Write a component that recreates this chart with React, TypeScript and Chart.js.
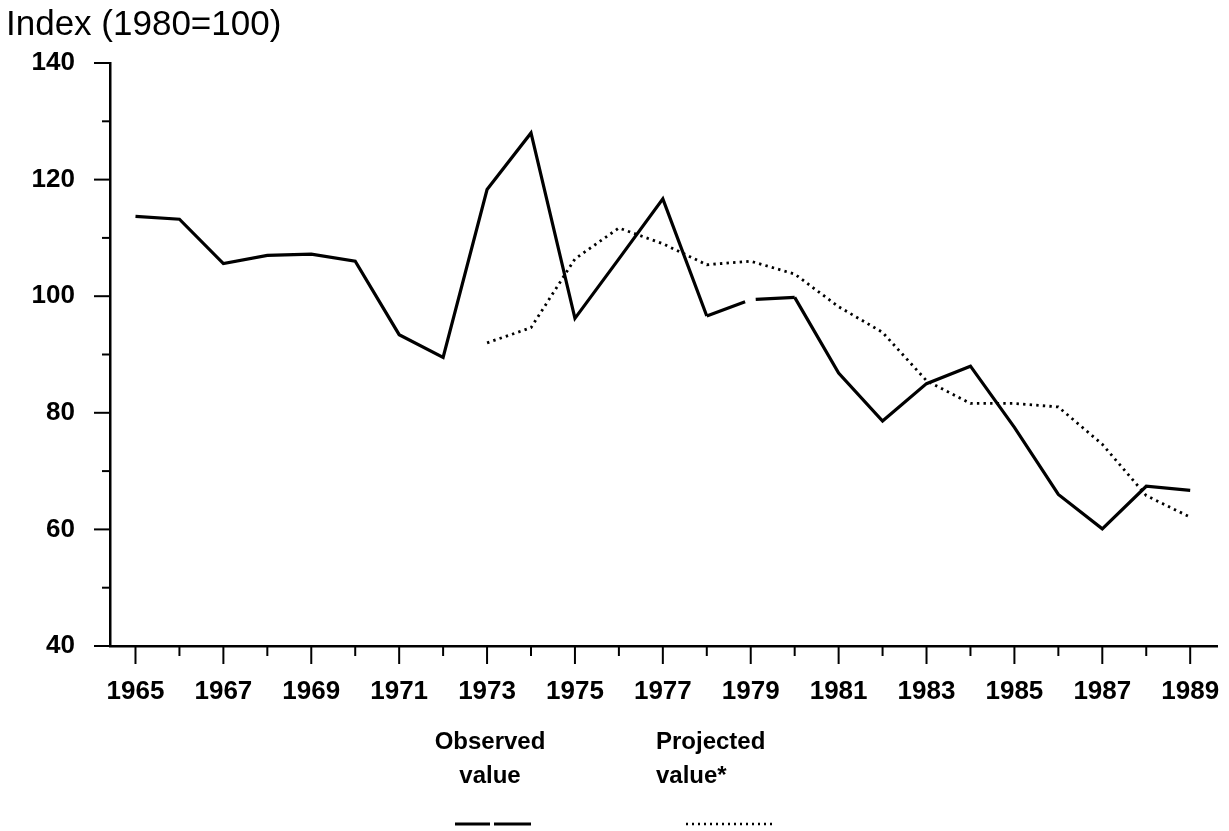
import React, { useEffect, useRef } from "react";
import { Chart, registerables } from "chart.js";

Chart.register(...registerables);

const years = [1965, 1966, 1967, 1968, 1969, 1970, 1971, 1972, 1973, 1974, 1975, 1976, 1977, 1978, 1979, 1980, 1981, 1982, 1983, 1984, 1985, 1986, 1987, 1988, 1989];
const observed = [113.7, 113.2, 105.6, 107.0, 107.2, 106.0, 93.4, 89.5, 118.3, 128.0, 96.2, 106.4, 116.7, 96.6, 99.4, 99.8, 86.8, 78.6, 85.0, 88.0, 77.5, 66.0, 60.1, 67.4, 66.7];
const projected: (number | null)[] = [null, null, null, null, null, null, null, null, 92.0, 94.6, 106.4, 111.7, 109.0, 105.4, 106.0, 103.8, 98.2, 93.8, 85.5, 81.6, 81.6, 81.0, 74.6, 65.8, 62.1];
const yTicks = [40, 50, 60, 70, 80, 90, 100, 110, 120, 130, 140];
const titleText = "Index (1980=100)";
const observedLabel = ["Observed", "value"];
const projectedLabel = ["Projected", "value*"];

const FONT = '"Liberation Sans", Arial, Helvetica, sans-serif';
const BREAK_INDEX = 14; // observed series break around 1979

const tickMarks = {
  id: "tickMarks",
  afterDraw(chart: any) {
    const ctx = chart.ctx;
    const xs = chart.scales.x;
    const ys = chart.scales.y;
    const area = chart.chartArea;
    ctx.save();
    ctx.strokeStyle = "#000";
    ctx.lineWidth = 2;
    years.forEach((yr) => {
      const px = xs.getPixelForValue(yr);
      const len = yr % 2 === 1 ? 18 : 10;
      ctx.beginPath();
      ctx.moveTo(px, area.bottom);
      ctx.lineTo(px, area.bottom + len);
      ctx.stroke();
    });
    yTicks.forEach((v) => {
      const py = ys.getPixelForValue(v);
      const len = v % 20 === 0 ? 16 : 8;
      ctx.beginPath();
      ctx.moveTo(area.left, py);
      ctx.lineTo(area.left - len, py);
      ctx.stroke();
    });
    ctx.restore();
  },
};

export default function App() {
  const ref = useRef<HTMLCanvasElement | null>(null);

  useEffect(() => {
    if (!ref.current) return;
    const segLen = (c: any) => Math.hypot(c.p1.x - c.p0.x, c.p1.y - c.p0.y);
    const chart = new Chart(ref.current, {
      type: "line",
      data: {
        datasets: [
          {
            label: "Observed value",
            data: years.map((y, i) => ({ x: y, y: observed[i] })),
            borderColor: "#000",
            borderWidth: 3.2,
            pointRadius: 0,
            tension: 0,
            segment: {
              borderDash: (c: any) => {
                if (c.p1DataIndex === BREAK_INDEX) return [Math.max(segLen(c) - 6, 1), 200];
                if (c.p0DataIndex === BREAK_INDEX) return [2000, 5];
                return undefined;
              },
              borderDashOffset: (c: any) => (c.p0DataIndex === BREAK_INDEX ? 2000 : undefined),
            },
          } as any,
          {
            label: "Projected value*",
            data: years.map((y, i) => ({ x: y, y: projected[i] })),
            borderColor: "#000",
            borderWidth: 2.8,
            borderDash: [2.4, 4.2],
            pointRadius: 0,
            tension: 0,
            spanGaps: false,
          },
        ],
      },
      options: {
        animation: false,
        responsive: false,
        maintainAspectRatio: false,
        layout: { padding: { left: 0, right: 12, top: 63, bottom: 105 } },
        plugins: {
          legend: { display: false },
          title: { display: false },
          tooltip: { enabled: false },
        },
        scales: {
          x: {
            type: "linear",
            min: 1964.42,
            max: 1989.61,
            grid: { display: false, drawTicks: true, tickLength: 30 },
            border: { display: true, color: "#000", width: 2.5 },
            afterBuildTicks: (s: any) => {
              s.ticks = years.map((v) => ({ value: v }));
            },
            afterFit: (s: any) => {
              s.height = 80;
            },
            ticks: {
              autoSkip: false,
              maxRotation: 0,
              minRotation: 0,
              padding: 0,
              color: "#000",
              font: { family: FONT, size: 26, weight: "bold" },
              callback: (v: any) => (Number(v) % 2 === 1 ? String(v) : ""),
            },
          },
          y: {
            type: "linear",
            min: 40,
            max: 140,
            grid: { display: false, drawTicks: true, tickLength: 35 },
            border: { display: true, color: "#000", width: 2.5 },
            afterBuildTicks: (s: any) => {
              s.ticks = yTicks.map((v) => ({ value: v }));
            },
            afterFit: (s: any) => {
              s.width = 110;
            },
            ticks: {
              padding: 0,
              color: "#000",
              font: { family: FONT, size: 26, weight: "bold" },
              callback: (v: any) => (Number(v) % 20 === 0 ? String(v) : ""),
            },
          },
        },
      },
      plugins: [tickMarks],
    });
    return () => chart.destroy();
  }, []);

  const textStyle: React.CSSProperties = {
    position: "absolute",
    fontFamily: FONT,
    fontWeight: "bold",
    fontSize: 24,
    lineHeight: "34px",
    color: "#000",
    whiteSpace: "nowrap",
  };

  return (
    <div style={{ position: "absolute", left: 0, top: 0, width: 1229, height: 831, background: "#fff", overflow: "hidden" }}>
      <canvas ref={ref} width={1229} height={831} style={{ position: "absolute", left: 0, top: 0, width: 1229, height: 831 }} />
      <div style={{ position: "absolute", left: 6, top: 5, fontFamily: FONT, fontSize: 35, lineHeight: 1, color: "#000", whiteSpace: "nowrap" }}>
        {titleText}
      </div>
      <div style={{ ...textStyle, left: 390, width: 200, top: 724, textAlign: "center" }}>
        <div>{observedLabel[0]}</div>
        <div>{observedLabel[1]}</div>
      </div>
      <div style={{ ...textStyle, left: 656, top: 724, textAlign: "left" }}>
        <div>{projectedLabel[0]}</div>
        <div>{projectedLabel[1]}</div>
      </div>
      <svg style={{ position: "absolute", left: 0, top: 0 }} width={1229} height={831}>
        <line x1={455} y1={824} x2={490} y2={824} stroke="#000" strokeWidth={3} />
        <line x1={494} y1={824} x2={531} y2={824} stroke="#000" strokeWidth={3} />
        <line x1={686} y1={824} x2={776} y2={824} stroke="#000" strokeWidth={2.5} strokeDasharray="2 4" />
      </svg>
    </div>
  );
}
